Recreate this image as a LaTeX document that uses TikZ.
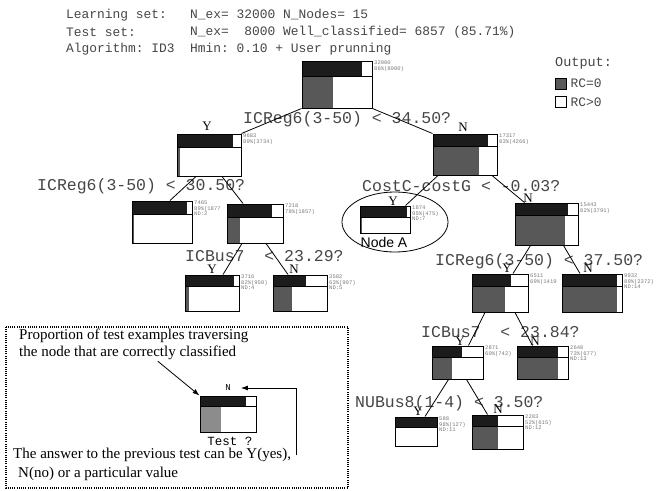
\documentclass[tikz,border=0pt]{standalone}
\usepackage{fontspec}
\setmainfont{Liberation Serif}
\setsansfont{Liberation Sans}
\setmonofont{Liberation Mono}
\usetikzlibrary{arrows.meta,positioning,fit,shapes.geometric}
\definecolor{rcblack}{RGB}{28,28,28}
\definecolor{rcgray}{RGB}{88,88,88}
\definecolor{rclight}{RGB}{140,140,140}
\definecolor{txtgray}{RGB}{70,70,70}
\definecolor{statgray}{RGB}{120,120,120}

% one tree node: name, left, top, right, bottom, bar bottom, end of black, end of gray, counts
\newcommand{\dtnode}[9]{%
  \fill[rcblack] (#2,#3) rectangle (#7,#6);
  \fill[dtlower] (#2,#6) rectangle (#8,#5);
  \draw[dtrule] (#2,#6) -- (#4,#6);
  \node[dtbox,fit={(#2,#3) (#4,#5)}] (#1) {};
  \node[stats] at (#1.north east) {#9};}

\begin{document}
\begin{tikzpicture}[x=1pt,y=-1pt,
  dtbox/.style={draw,line width=1pt,inner sep=0pt},
  dtrule/.style={line width=0.8pt},
  dtlower/.style={fill=rcgray},
  stats/.style={anchor=north west,inner sep=0pt,xshift=1.5pt,align=left,
    font=\ttfamily\fontsize{5.5}{5.8}\selectfont,text=statgray},
  head/.style={anchor=west,inner sep=0pt,font=\ttfamily\fontsize{12.9}{14}\selectfont,text=txtgray},
  cond/.style={anchor=west,inner sep=0pt,font=\ttfamily\fontsize{16.5}{18}\selectfont,text=txtgray},
  ans/.style={inner sep=0pt,font=\fontsize{13}{14}\selectfont},
  note/.style={anchor=west,inner sep=0pt,font=\fontsize{15}{17}\selectfont},
  link/.style={line width=0.8pt},
  legsq/.style={draw,line width=0.8pt,minimum size=11pt,inner sep=0pt}
]
  \useasboundingbox (0,0) rectangle (656,490);

  % run summary
  \node[head] (lset) at (66,15) {Learning set:};
  \node[head] (lval) at (190,15) {N\_ex= 32000 N\_Nodes= 15};
  \node[head] (tset) at (66,32) {Test set:};
  \node[head] (tval) at (190,32) {N\_ex=~~8000 Well\_classified= 6857 (85.71\%)};
  \node[head] (alg) at (66,49) {Algorithm: ID3};
  \node[head] (hmin) at (190,49) {Hmin: 0.10 + User prunning};

  % output key
  \node[head,font=\ttfamily\fontsize{13.5}{14}\selectfont] (outkey) at (555,63) {Output:};
  \node[legsq,fill=rcgray] (sq0) at (560.5,83.5) {};
  \node[head,right=4pt of sq0] (rc0) {RC=0};
  \node[legsq,fill=white] (sq1) at (560.5,102) {};
  \node[head,right=4pt of sq1] (rc1) {RC>0};

  % tree
  \dtnode{root}{302}{61}{372}{108}{76}{362}{333}{32000\\86\%(8000)}
  \node[cond] (t0) at (243,119) {ICReg6(3-50) < 34.50?};

  \dtnode{y1}{177}{134}{241}{176}{147}{233}{180}{9683\\89\%(3734)}
  \node[ans] at (207,126) {Y};
  \dtnode{n1}{433}{134}{497}{175}{146}{488}{479}{17317\\83\%(4266)}
  \node[ans] at (463,127) {N};
  \node[cond] (t1) at (37,186) {ICReg6(3-50) < 30.50?};
  \node[cond] (t2) at (362,186) {CostC-costG < -0.03?};

  \dtnode{ll}{132}{201}{192}{243}{214}{187}{134}{7465\\89\%(1877\\ND:2}
  \dtnode{lr}{227}{204}{283}{243}{217}{272}{240}{7218\\78\%(1857)}
  \dtnode{nodeA}{360}{206}{410}{233}{217}{407}{362}{1874\\95\%(475)\\ND:7}
  \node[ans] at (393,201) {Y};
  \node[draw,ellipse,line width=0.8pt,minimum width=106pt,minimum height=60pt] (ringA) at (395,222) {};
  \node[font=\sffamily\fontsize{14}{14}\selectfont,inner sep=0pt] (nameA) at (384,242) {Node A};
  \dtnode{rn}{515}{203}{578}{245}{215}{568}{565}{15443\\82\%(3791)}
  \node[ans] at (528,198) {N};

  \node[cond] (t3) at (185,256) {ICBus7~~< 23.29?};
  \node[cond] (t4) at (435,261) {ICReg6(3-50) < 37.50?};

  \dtnode{lry}{185}{275}{239}{311}{286}{234}{189}{3716\\82\%(950)\\ND:4}
  \node[ans] at (212,269) {Y};
  \dtnode{lrn}{273}{275}{327}{311}{286}{306}{292}{3502\\63\%(907)\\ND:5}
  \node[ans] at (294,269) {N};
  \dtnode{rny}{472}{274}{528}{312}{286}{511}{505}{6511\\69\%(1419}
  \node[ans] at (507,268) {Y};
  \dtnode{rnn}{562}{274}{622}{312}{286}{617}{617}{9932\\89\%(2372)\\ND:14}
  \node[ans] at (588,268) {N};

  \node[cond] (t5) at (421,332) {ICBus7~~< 23.84?};

  \dtnode{rnyy}{432}{346}{483}{379}{357}{462}{452}{2871\\60\%(742)}
  \node[ans] at (460,341) {Y};
  \dtnode{rnyn}{517}{346}{568}{379}{357}{558}{558}{2640\\73\%(677)\\ND:13}
  \node[ans] at (535,341) {N};

  \node[cond] (t6) at (355,403) {NUBus8(1-4) < 3.50?};

  \dtnode{leafy}{395}{417}{437}{446}{427}{437}{395}{588\\98\%(127)\\ND:11}
  \node[ans] at (418,411) {Y};
  \dtnode{leafn}{472}{415}{523}{449}{426}{498}{498}{2283\\52\%(615)\\ND:12}
  \node[ans] at (498,409) {N};

  % branches
  \draw[link] (root.south west) -- (y1.north east);
  \draw[link] (root.south east) -- (n1.north west);
  \draw[link] ([xshift=-13pt]y1.south) -- ([xshift=8pt]ll.north);
  \draw[link] ([xshift=13pt]y1.south) -- ([xshift=-12pt]lr.north);
  \draw[link] ([xshift=-27pt]n1.south) -- ([xshift=-5pt]nodeA.north east);
  \draw[link] ([xshift=27pt]n1.south) -- ([xshift=-22pt]rn.north);
  \draw[link] ([xshift=-13pt]lr.south) -- ([xshift=11pt]lry.north);
  \draw[link] ([xshift=11pt]lr.south) -- ([xshift=-12pt]lrn.north);
  \draw[link] ([xshift=-16pt]rn.south) -- ([xshift=13pt]rny.north);
  \draw[link] ([xshift=17pt]rn.south) -- ([xshift=-12pt]rnn.north);
  \draw[link] ([xshift=-15pt]rny.south) -- ([xshift=11pt]rnyy.north);
  \draw[link] ([xshift=15pt]rny.south) -- ([xshift=-10pt]rnyn.north);
  \draw[link] ([xshift=-9pt]rnyy.south) -- ([xshift=9pt]leafy.north);
  \draw[link] ([xshift=9pt]rnyy.south) -- ([xshift=-10pt]leafn.north);

  % reading guide
  \draw[line width=1.2pt,dash pattern=on 1pt off 1.2pt] (6,327) rectangle (348,488);
  \node[note,anchor=north west,align=left] (prop) at (19,329)
    {Proportion of test examples traversing\\the node that are correctly classified};
  \begin{scope}[dtlower/.style={fill=rclight}]
    \dtnode{ex}{200}{396}{256}{432}{406}{246}{221}{}
  \end{scope}
  \node[font=\ttfamily\fontsize{9}{9}\selectfont,inner sep=0pt] (exans) at (228,388) {N};
  \node[font=\ttfamily\fontsize{12.5}{13}\selectfont,inner sep=0pt] (extest) at (230,441) {Test ?};
  \node[note] (answer) at (13,455) {The answer to the previous test can be Y(yes),};
  \node[note] (answer2) at (18,474) {N(no) or a particular value};
  \draw[link,-{Latex[length=7pt,width=5pt]}] ([xshift=24pt,yshift=-1pt]prop.south) -- (ex.north west);
  \draw[link,-{Latex[length=7pt,width=5pt]}] ([xshift=5pt]answer.east) |- ([xshift=10pt]exans.east);
\end{tikzpicture}
\end{document}
